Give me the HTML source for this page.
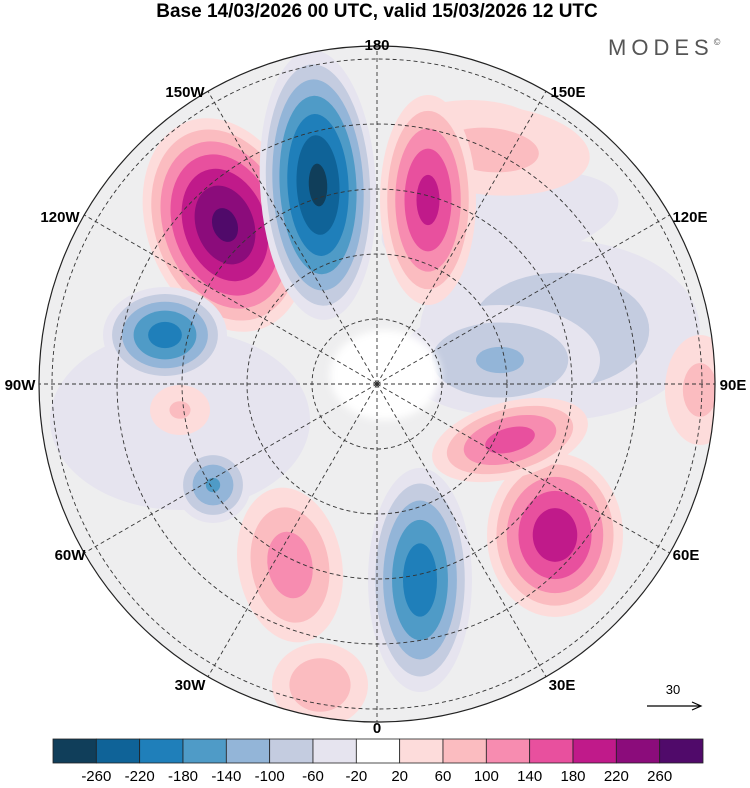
<!DOCTYPE html>
<html><head><meta charset="utf-8"><style>
body{margin:0;background:#fff;width:750px;height:783px;overflow:hidden;font-family:"Liberation Sans",sans-serif}
</style></head><body>
<svg id="chart" width="750" height="783" viewBox="0 0 750 783" xmlns="http://www.w3.org/2000/svg">
<text x="377" y="17" text-anchor="middle" font-size="19" font-weight="bold" font-family="Liberation Sans, sans-serif">Base 14/03/2026 00 UTC, valid 15/03/2026 12 UTC</text>
<text x="608" y="55" font-size="22" letter-spacing="5" fill="#555" font-family="Liberation Sans, sans-serif">MODES<tspan font-size="9" dy="-10">©</tspan></text>
<defs><clipPath id="disk"><circle cx="377" cy="384" r="338"/></clipPath>
<filter id="bl"><feGaussianBlur stdDeviation="4"/></filter></defs>
<g id="field" clip-path="url(#disk)"></g>
<g id="grid" clip-path="url(#disk)"></g>
<circle cx="377" cy="384" r="338" fill="none" stroke="#222" stroke-width="1.2"/>
<g id="labels" font-size="15" font-weight="bold" font-family="Liberation Sans, sans-serif"></g>
<g>
<text x="673" y="694" font-size="13" text-anchor="middle">30</text>
<line x1="647" y1="706" x2="700" y2="706" stroke="#000" stroke-width="1.2"/>
<path d="M692 702 L701 706 L692 710" fill="none" stroke="#000" stroke-width="1.2"/>
</g>
<g id="cbar"></g>
</svg>
<script>
const levels=[-300,-260,-220,-180,-140,-100,-60,-20,20,60,100,140,180,220,260,300];
const colors=["#103e5a","#0f6398","#1f7fba","#4f9bc7","#93b5d8","#c4cce0","#e6e4ef","#ffffff","#fddcdb","#fbbcc0","#f78cb0","#e8509e","#c01a8a","#8b0c7b","#500a6a"];
const tickLabels=["-260","-220","-180","-140","-100","-60","-20","20","60","100","140","180","220","260"];
// anomaly centres: x, y (px in map), radii, rotation, peak value
const blobX=[180,560,500,470,700,500,225,318,490,428,165,555,510,420,213,290,320,180];
const blobY=[420,330,360,140,390,220,225,185,150,200,335,535,440,580,485,565,685,410];
const blobRX=[130,140,100,80,35,120,78,58,100,48,62,68,80,52,38,52,48,30];
const blobRY=[90,90,55,40,55,45,110,135,45,105,48,82,38,112,38,78,42,25];
const blobRot=[0,0,0,0,0,-10,-20,-3,5,0,0,0,-15,0,0,-10,0,0];
const blobPeak=[-60,-100,-110,40,80,-60,275,-275,80,200,-205,215,165,-215,-150,130,100,70];

const NS="http://www.w3.org/2000/svg";
const field=document.getElementById('field');
function mk(t,a,p){const e=document.createElementNS(NS,t);for(const k in a)e.setAttribute(k,a[k]);p.appendChild(e);return e;}
const bg=mk('circle',{cx:377,cy:384,r:338,fill:'#eeeeef'},field);


function colorFor(v){for(let i=0;i<colors.length;i++){if(v<levels[i+1])return colors[i];}return colors[colors.length-1];}
blobX.forEach((x,i)=>{
  const pk=blobPeak[i];const g=mk('g',{},field);
  
  
  const sign=Math.sign(pk);
  const th=levels.filter(l=>sign>0?(l>=20&&l<pk):(l<=-20&&l>pk)).sort((a,b)=>Math.abs(a)-Math.abs(b));
  th.forEach(l=>{
    const f=Math.pow((pk-l)/(pk-sign*20),0.65);
    mk('ellipse',{cx:x,cy:blobY[i],rx:blobRX[i]*f,ry:blobRY[i]*f,transform:`rotate(${blobRot[i]} ${x} ${blobY[i]})`,fill:colorFor(l+sign*1)},g);
  });
});
const pole=mk('ellipse',{cx:385,cy:375,rx:55,ry:45,fill:'#ffffff',filter:'url(#bl)'},field);


const grid=document.getElementById('grid');
[65,130,195,260,325].forEach(r=>mk('circle',{cx:377,cy:384,r:r,fill:'none',stroke:'#333','stroke-width':0.9,'stroke-dasharray':'4 3'},grid));
for(let a=0;a<360;a+=30){const t=a*Math.PI/180;mk('line',{x1:377,y1:384,x2:377+340*Math.sin(t),y2:384-340*Math.cos(t),stroke:'#333','stroke-width':0.9,'stroke-dasharray':'4 3'},grid);}
const labs=[["180",377,50],["150E",568,97],["120E",690,222],["90E",733,390],["60E",686,560],["30E",562,690],["0",377,733],["30W",190,690],["60W",70,560],["90W",20,390],["120W",60,222],["150W",185,97]];
const lg=document.getElementById('labels');
labs.forEach(l=>{const t=mk('text',{x:l[1],y:l[2],'text-anchor':'middle'},lg);t.textContent=l[0];

});
const cb=document.getElementById('cbar');const w=650/colors.length;
colors.forEach((c,i)=>{const r=mk('rect',{x:53+i*w,y:739,width:w,height:24,fill:c,stroke:'#222','stroke-width':0.8},cb);

});
tickLabels.forEach((t,i)=>{const e=mk('text',{x:53+(i+1)*w,y:781,'text-anchor':'middle','font-size':15},cb);e.textContent=t;

});
</script>
</body></html>
